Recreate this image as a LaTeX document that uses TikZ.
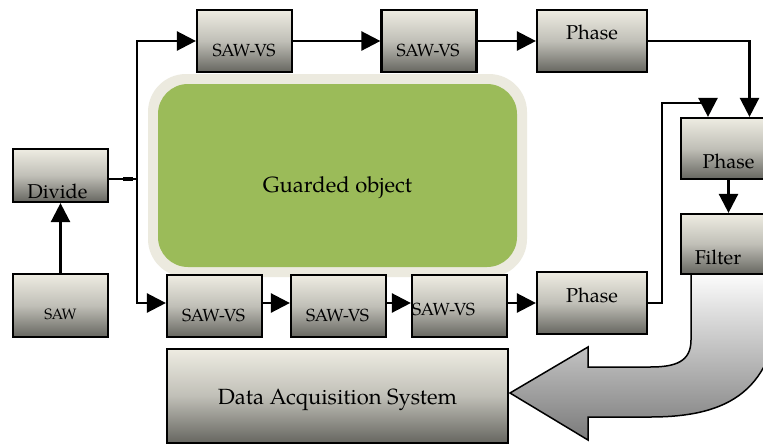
\documentclass[tikz,border=0pt]{standalone}
\usepackage{fontspec}
\setmainfont{TeX Gyre Pagella}
\usetikzlibrary{arrows.meta}
\definecolor{btop}{RGB}{238,236,226}
\definecolor{bmid}{RGB}{192,191,183}
\definecolor{bbot}{RGB}{102,102,96}
\definecolor{beige}{RGB}{236,234,223}
\definecolor{olive}{RGB}{155,187,89}
\definecolor{agray}{RGB}{122,122,122}
\tikzset{
  box/.style={draw=black, line width=2.2pt, top color=btop, bottom color=bbot, middle color=bmid, minimum width=95pt, inner sep=0pt},
  conn/.style={line width=2.5pt, -{Triangle[length=19pt,width=19pt]}},
  plain/.style={line width=2.5pt},
  lbl/.style={font=\fontsize{20}{24}\selectfont, inner sep=0pt},
  lbll/.style={font=\fontsize{22}{26}\selectfont, inner sep=0pt},
  lblm/.style={font=\fontsize{17.5}{20}\selectfont, inner sep=0pt},
  lbls/.style={font=\fontsize{15}{18}\selectfont, inner sep=0pt},
}
\begin{document}
\begin{tikzpicture}[x=1pt, y=-1pt]
\useasboundingbox (0,0) rectangle (763,445);
\clip (0,0) rectangle (763,445);
\fill[white] (0,0) rectangle (763,445);

% guarded object
\fill[beige, rounded corners=38pt] (148,74) rectangle (527,277);
\node[fill=olive, rounded corners=30pt, minimum width=359pt, minimum height=183pt, inner sep=0pt] (guard) at (337.5,175.5) {};
\node[lbll] (guardt) at (337.5,188) {Guarded object};

% curved arrow
\shade[draw=black, line width=1.5pt, top color=white, bottom color=agray]
  (691,270) -- (691,340) .. controls (691,362) and (675,367) .. (650,367)
  -- (588,367) -- (588,347) -- (510,393) -- (588,440) -- (588,417) -- (650,417)
  .. controls (730,417) and (775,390) .. (780,300) -- (780,270) -- cycle;

% boxes
\node[box, minimum height=53pt] (divide) at (60.5,175.5) {};
\node[box, minimum height=63pt] (saw) at (60.5,305.5) {};
\node[box, minimum height=62pt] (tsaw1) at (244.5,41) {};
\node[box, minimum height=62pt] (tsaw2) at (429,41) {};
\node[box, minimum height=62pt, minimum width=110pt] (tphase) at (592,41) {};
\node[box, minimum height=61pt] (rphase) at (728.5,148.5) {};
\node[box, minimum height=60pt] (filter) at (728.5,244) {};
\node[box, minimum height=62pt] (bsaw1) at (214.5,306) {};
\node[box, minimum height=62pt] (bsaw2) at (338.5,306) {};
\node[box, minimum height=62pt] (bsaw3) at (459.5,306) {};
\node[box, minimum height=62pt, minimum width=110pt] (bphase) at (592,303) {};
\node[box, minimum height=94pt, minimum width=341pt] (das) at (337.5,396) {};

% labels
\node[lbl] (dividet) at (57.5,191) {Divide};
\node[lbls] (sawt) at (60.5,314) {SAW};
\node[lblm] (tsaw1t) at (244,50) {SAW-VS};
\node[lblm] (tsaw2t) at (428,50) {SAW-VS};
\node[lbl] (tphaset) at (592,32) {Phase};
\node[lbl] (rphaset) at (728.5,161) {Phase};
\node[lbl] (filtert) at (718,257) {Filter};
\node[lblm] (bsaw1t) at (213.5,315) {SAW-VS};
\node[lblm] (bsaw2t) at (337.5,315) {SAW-VS};
\node[lblm, anchor=west] (bsaw3t) at (412,309) {SAW-VS};
\node[lbl] (bphaset) at (592,295) {Phase};
\node[lbll] (dast) at (337.5,400) {Data Acquisition System};

% connectors
\coordinate (split) at (137,179);
\coordinate (loop) at (662,103);
\draw[conn] (saw.north) -- (divide.south);
\draw[plain] (divide.east |- split) -- (split);
\draw[line width=4pt] (123,179) -- (133,179);
\draw[conn] (split) |- (tsaw1.west);
\draw[conn] (split) |- ([yshift=3pt]bsaw1.west);
\draw[conn] (tsaw1.east) -- (tsaw2.west);
\draw[conn] (tsaw2.east) -- (tphase.west);
\draw[conn] (tphase.east) -| ([xshift=21pt]rphase.north);
\draw[conn] ([yshift=3pt]bsaw1.east) -- ([yshift=3pt]bsaw2.west);
\draw[conn] ([yshift=3pt]bsaw2.east) -- ([yshift=3pt]bsaw3.west);
\draw[conn] ([yshift=3pt]bsaw3.east) -- (bphase.west);
\draw[conn] (bphase.east) -| (loop) -| ([xshift=-20.5pt]rphase.north);
\draw[conn] (rphase.south) -- (filter.north);
\end{tikzpicture}
\end{document}
